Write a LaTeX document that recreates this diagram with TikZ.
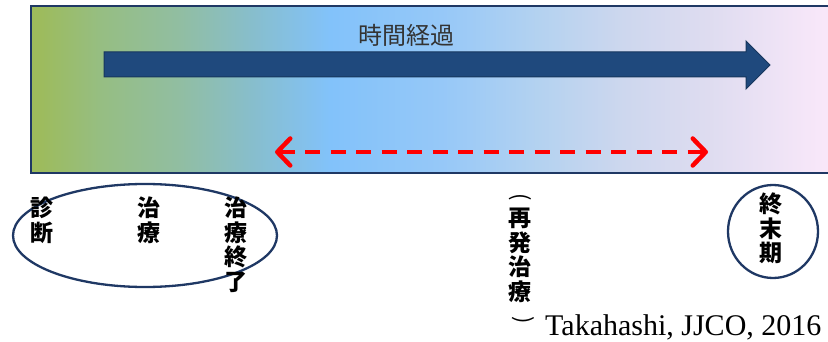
\documentclass[tikz,border=0pt]{standalone}
\usepackage{fontspec}
\setmainfont{Liberation Serif}
\newfontfamily\jp{Noto Sans CJK JP}
\usetikzlibrary{arrows.meta}
\definecolor{g1}{RGB}{157,187,92}
\definecolor{g2}{RGB}{150,190,130}
\definecolor{g3}{RGB}{145,190,162}
\definecolor{g4}{RGB}{135,190,205}
\definecolor{g5}{RGB}{130,194,250}
\definecolor{g6}{RGB}{150,200,248}
\definecolor{g7}{RGB}{180,210,240}
\definecolor{g8}{RGB}{205,215,238}
\definecolor{g9}{RGB}{222,220,240}
\definecolor{g10}{RGB}{245,230,248}
\definecolor{g11}{RGB}{250,232,250}
\definecolor{navy}{RGB}{31,56,100}
\definecolor{arrowblue}{RGB}{31,73,125}
\definecolor{arrowedge}{RGB}{23,55,94}
\pgfdeclarehorizontalshading{timebar}{100bp}{color(0bp)=(g1); color(25.5bp)=(g1); color(29.3bp)=(g2); color(34.25bp)=(g3); color(38.8bp)=(g4); color(43.55bp)=(g5); color(50.5bp)=(g6); color(56.6bp)=(g7); color(61.75bp)=(g8); color(67bp)=(g9); color(73.2bp)=(g10); color(75bp)=(g11); color(100bp)=(g11)}
\tikzset{
  vtext/.style={align=center, inner sep=0pt, anchor=north, font=\jp\bfseries\fontsize{23}{24.5}\selectfont},
  paren/.style={inner sep=0pt, rotate=-90, font=\jp\fontsize{22}{24}\selectfont},
  ring/.style={draw=navy, line width=2.3pt},
  redarrow/.style={draw=red, line width=4.5pt, dash pattern=on 15pt off 10.5pt,
    {Straight Barb[length=13pt,width=27pt,line cap=round,line join=round]}-{Straight Barb[length=13pt,width=27pt,line cap=round,line join=round]}}
}
\begin{document}
\begin{tikzpicture}[x=1pt,y=-1pt]
\useasboundingbox (0,0) rectangle (828,342);
% gradient bar
\path[shading=timebar] (31,6) rectangle (836,173);
\draw[navy, line width=2pt] (836,6) -- (31,6) -- (31,173) -- (836,173);
% big time arrow
\filldraw[fill=arrowblue, draw=arrowedge, line width=1pt]
  (104,52) -- (746,52) -- (746,41) -- (770,65) -- (746,89) -- (746,77) -- (104,77) -- cycle;
\node[font=\jp\fontsize{24}{26}\selectfont, text=black!80] (title) at (406,35) {時間経過};
% red dashed double arrow
\coordinate (rl) at (275,152);
\coordinate (rr) at (708,152);
\draw[redarrow] (rl) -- (rr);
% ellipses
\draw[ring] (145,235.5) ellipse [x radius=132, y radius=51.5];
\draw[ring] (773,231.5) ellipse [x radius=45, y radius=46.5];
% vertical labels
\node[vtext] (diag) at (42,197) {診\\断};
\node[vtext] (treat) at (149,197) {治\\療};
\node[vtext] (tend) at (236,197) {治\\療\\終\\了};
\node[vtext] (relapse) at (520,208) {再\\発\\治\\療};
\node[paren] (po) at (520,197) {(};
\node[paren] (pc) at (523,320) {)};
\node[vtext] (term) at (771,193) {終\\末\\期};
% citation
\node[font=\fontsize{30}{32}\selectfont, anchor=base west, inner sep=0pt] (cite) at (545,335) {Takahashi, JJCO, 2016};
\end{tikzpicture}
\end{document}
